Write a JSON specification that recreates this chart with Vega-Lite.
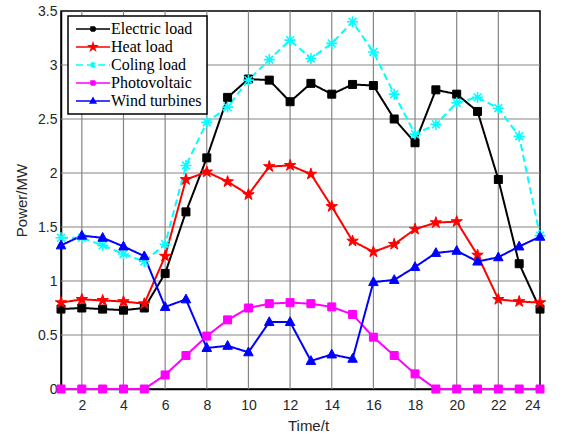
{
  "$schema": "https://vega.github.io/schema/vega-lite/v6.json",
  "width": 479,
  "height": 378,
  "autosize": {"type": "none"},
  "padding": {"left": 61, "top": 11, "right": 25, "bottom": 54},
  "background": "white",
  "datasets": {
    "loads": [
      {"t": 1, "Electric load": 0.74, "Heat load": 0.80, "Coling load": 1.40, "Photovoltaic": 0, "Wind turbines": 1.33},
      {"t": 2, "Electric load": 0.75, "Heat load": 0.83, "Coling load": 1.40, "Photovoltaic": 0, "Wind turbines": 1.42},
      {"t": 3, "Electric load": 0.74, "Heat load": 0.82, "Coling load": 1.33, "Photovoltaic": 0, "Wind turbines": 1.40},
      {"t": 4, "Electric load": 0.73, "Heat load": 0.81, "Coling load": 1.25, "Photovoltaic": 0, "Wind turbines": 1.32},
      {"t": 5, "Electric load": 0.75, "Heat load": 0.79, "Coling load": 1.18, "Photovoltaic": 0, "Wind turbines": 1.23},
      {"t": 6, "Electric load": 1.07, "Heat load": 1.23, "Coling load": 1.34, "Photovoltaic": 0.13, "Wind turbines": 0.76},
      {"t": 7, "Electric load": 1.64, "Heat load": 1.94, "Coling load": 2.07, "Photovoltaic": 0.31, "Wind turbines": 0.83},
      {"t": 8, "Electric load": 2.14, "Heat load": 2.01, "Coling load": 2.47, "Photovoltaic": 0.49, "Wind turbines": 0.38},
      {"t": 9, "Electric load": 2.70, "Heat load": 1.92, "Coling load": 2.61, "Photovoltaic": 0.64, "Wind turbines": 0.40},
      {"t": 10, "Electric load": 2.87, "Heat load": 1.80, "Coling load": 2.86, "Photovoltaic": 0.75, "Wind turbines": 0.34},
      {"t": 11, "Electric load": 2.86, "Heat load": 2.06, "Coling load": 3.05, "Photovoltaic": 0.79, "Wind turbines": 0.62},
      {"t": 12, "Electric load": 2.66, "Heat load": 2.07, "Coling load": 3.23, "Photovoltaic": 0.80, "Wind turbines": 0.62},
      {"t": 13, "Electric load": 2.83, "Heat load": 1.99, "Coling load": 3.06, "Photovoltaic": 0.79, "Wind turbines": 0.26},
      {"t": 14, "Electric load": 2.73, "Heat load": 1.69, "Coling load": 3.20, "Photovoltaic": 0.76, "Wind turbines": 0.32},
      {"t": 15, "Electric load": 2.82, "Heat load": 1.37, "Coling load": 3.40, "Photovoltaic": 0.69, "Wind turbines": 0.28},
      {"t": 16, "Electric load": 2.81, "Heat load": 1.27, "Coling load": 3.12, "Photovoltaic": 0.48, "Wind turbines": 0.99},
      {"t": 17, "Electric load": 2.50, "Heat load": 1.34, "Coling load": 2.73, "Photovoltaic": 0.31, "Wind turbines": 1.01},
      {"t": 18, "Electric load": 2.28, "Heat load": 1.48, "Coling load": 2.36, "Photovoltaic": 0.14, "Wind turbines": 1.13},
      {"t": 19, "Electric load": 2.77, "Heat load": 1.54, "Coling load": 2.45, "Photovoltaic": 0, "Wind turbines": 1.26},
      {"t": 20, "Electric load": 2.73, "Heat load": 1.55, "Coling load": 2.65, "Photovoltaic": 0, "Wind turbines": 1.28},
      {"t": 21, "Electric load": 2.57, "Heat load": 1.24, "Coling load": 2.70, "Photovoltaic": 0, "Wind turbines": 1.18},
      {"t": 22, "Electric load": 1.94, "Heat load": 0.83, "Coling load": 2.60, "Photovoltaic": 0, "Wind turbines": 1.22},
      {"t": 23, "Electric load": 1.16, "Heat load": 0.81, "Coling load": 2.34, "Photovoltaic": 0, "Wind turbines": 1.32},
      {"t": 24, "Electric load": 0.74, "Heat load": 0.80, "Coling load": 1.42, "Photovoltaic": 0, "Wind turbines": 1.41}
    ],
    "grid": [
      {"g": "x2", "t": 2, "v": 0}, {"g": "x2", "t": 2, "v": 3.5},
      {"g": "x4", "t": 4, "v": 0}, {"g": "x4", "t": 4, "v": 3.5},
      {"g": "x6", "t": 6, "v": 0}, {"g": "x6", "t": 6, "v": 3.5},
      {"g": "x8", "t": 8, "v": 0}, {"g": "x8", "t": 8, "v": 3.5},
      {"g": "x10", "t": 10, "v": 0}, {"g": "x10", "t": 10, "v": 3.5},
      {"g": "x12", "t": 12, "v": 0}, {"g": "x12", "t": 12, "v": 3.5},
      {"g": "x14", "t": 14, "v": 0}, {"g": "x14", "t": 14, "v": 3.5},
      {"g": "x16", "t": 16, "v": 0}, {"g": "x16", "t": 16, "v": 3.5},
      {"g": "x18", "t": 18, "v": 0}, {"g": "x18", "t": 18, "v": 3.5},
      {"g": "x20", "t": 20, "v": 0}, {"g": "x20", "t": 20, "v": 3.5},
      {"g": "x22", "t": 22, "v": 0}, {"g": "x22", "t": 22, "v": 3.5},
      {"g": "y0.5", "t": 1, "v": 0.5}, {"g": "y0.5", "t": 24, "v": 0.5},
      {"g": "y1", "t": 1, "v": 1}, {"g": "y1", "t": 24, "v": 1},
      {"g": "y1.5", "t": 1, "v": 1.5}, {"g": "y1.5", "t": 24, "v": 1.5},
      {"g": "y2", "t": 1, "v": 2}, {"g": "y2", "t": 24, "v": 2},
      {"g": "y2.5", "t": 1, "v": 2.5}, {"g": "y2.5", "t": 24, "v": 2.5},
      {"g": "y3", "t": 1, "v": 3}, {"g": "y3", "t": 24, "v": 3}
    ]
  },
  "encoding": {
    "x": {
      "field": "t", "type": "quantitative",
      "scale": {"domain": [1, 24], "nice": false, "zero": false},
      "axis": {"grid": false, "values": [2, 4, 6, 8, 10, 12, 14, 16, 18, 20, 22, 24], "title": "Time/t", "titleX": 247, "titlePadding": 6, "labelPadding": 9}
    },
    "y": {
      "field": "v", "type": "quantitative",
      "scale": {"domain": [0, 3.5], "nice": false},
      "axis": {"grid": false, "values": [0, 0.5, 1, 1.5, 2, 2.5, 3, 3.5], "format": "~g", "title": "Power/MW", "titlePadding": 8, "labelPadding": 4}
    }
  },
  "layer": [
    {
      "data": {"name": "grid"},
      "mark": {"type": "line", "stroke": "#858585", "strokeWidth": 1.2, "opacity": 1},
      "encoding": {
        "detail": {"field": "g", "type": "nominal"},
        "order": {"field": "v", "type": "quantitative"}
      }
    },
    {
      "data": {"name": "loads"},
      "transform": [
        {"fold": ["Electric load", "Heat load", "Coling load", "Photovoltaic", "Wind turbines"], "as": ["series", "v"]}
      ],
      "layer": [
        {
          "mark": {"type": "line", "strokeWidth": 2, "opacity": 1},
          "encoding": {
            "stroke": {
              "field": "series", "type": "nominal", "title": null,
              "scale": {"domain": ["Electric load", "Heat load", "Coling load", "Photovoltaic", "Wind turbines"], "range": ["#000000", "#ff0000", "#00ffff", "#ff00ff", "#0000ff"]},
              "legend": {"orient": "none", "legendX": 7, "legendY": 5, "labelFont": "Liberation Serif"}
            },
            "strokeDash": {
              "field": "series", "type": "nominal", "title": null,
              "scale": {"domain": ["Electric load", "Heat load", "Coling load", "Photovoltaic", "Wind turbines"], "range": [[1, 0], [1, 0], [7, 4], [1, 0], [1, 0]]},
              "legend": {"orient": "none", "legendX": 7, "legendY": 5, "labelFont": "Liberation Serif"}
            }
          }
        },
        {
          "transform": [{"filter": "datum.series == 'Electric load'"}],
          "mark": {"type": "point", "shape": "M-0.8,-0.8H0.8V0.8H-0.8Z", "size": 100, "fill": "#000000", "stroke": "#000000", "strokeWidth": 1, "opacity": 1, "filled": true}
        },
        {
          "transform": [{"filter": "datum.series == 'Heat load'"}],
          "mark": {"type": "point", "shape": "M0,-1.2L0.27,-0.372L1.141,-0.371L0.438,0.142L0.705,0.971L0,0.46L-0.705,0.971L-0.438,0.142L-1.141,-0.371L-0.27,-0.372Z", "size": 100, "fill": "#ff0000", "stroke": "#ff0000", "strokeWidth": 1, "opacity": 1, "filled": true}
        },
        {
          "transform": [{"filter": "datum.series == 'Coling load'"}],
          "mark": {"type": "point", "shape": "M0,-1.1V1.1M-1.1,0H1.1M-0.78,-0.78L0.78,0.78M-0.78,0.78L0.78,-0.78", "size": 100, "fill": "#00ffff", "stroke": "#00ffff", "strokeWidth": 1.6, "opacity": 1, "filled": false}
        },
        {
          "transform": [{"filter": "datum.series == 'Photovoltaic'"}],
          "mark": {"type": "point", "shape": "M-0.8,-0.8H0.8V0.8H-0.8Z", "size": 100, "fill": "#ff00ff", "stroke": "#ff00ff", "strokeWidth": 1, "opacity": 1, "filled": true}
        },
        {
          "transform": [{"filter": "datum.series == 'Wind turbines'"}],
          "mark": {"type": "point", "shape": "M0,-1.05L0.95,0.7L-0.95,0.7Z", "size": 100, "fill": "#0000ff", "stroke": "#0000ff", "strokeWidth": 1, "opacity": 1, "filled": true}
        },
        {
          "mark": {"type": "point", "size": 100, "opacity": 0, "strokeWidth": 1.5, "filled": true},
          "encoding": {
            "fill": {
              "field": "series", "type": "nominal", "title": null,
              "scale": {"domain": ["Electric load", "Heat load", "Coling load", "Photovoltaic", "Wind turbines"], "range": ["#000000", "#ff0000", "#00ffff", "#ff00ff", "#0000ff"]},
              "legend": {"orient": "none", "legendX": 7, "legendY": 5, "labelFont": "Liberation Serif", "symbolOpacity": 1}
            },
            "stroke": {
              "field": "series", "type": "nominal", "title": null,
              "legend": {"orient": "none", "legendX": 7, "legendY": 5, "labelFont": "Liberation Serif", "symbolOpacity": 1}
            },
            "strokeDash": {
              "field": "series", "type": "nominal", "title": null,
              "legend": {"orient": "none", "legendX": 7, "legendY": 5, "labelFont": "Liberation Serif", "symbolOpacity": 1}
            },
            "shape": {
              "field": "series", "type": "nominal", "title": null,
              "scale": {
                "domain": ["Electric load", "Heat load", "Coling load", "Photovoltaic", "Wind turbines"],
                "range": [
                  "M-1,0H5.8M2,-0.4H2.8V0.4H2Z",
                  "M-1,0H5.8M2.4,-0.75L2.57,-0.232L3.113,-0.232L2.674,0.089L2.841,0.607L2.4,0.287L1.959,0.607L2.126,0.089L1.687,-0.232L2.23,-0.232Z",
                  "M-1,0H5.8M2.4,-0.65V0.65M1.94,-0.46L2.86,0.46M1.94,0.46L2.86,-0.46",
                  "M-1,0H5.8M2,-0.4H2.8V0.4H2Z",
                  "M-1,0H5.8M2.4,-0.6L2.95,0.4L1.85,0.4Z"
                ]
              },
              "legend": {"orient": "none", "legendX": 7, "legendY": 5, "labelFont": "Liberation Serif", "symbolOpacity": 1}
            }
          }
        }
      ]
    }
  ],
  "config": {
    "view": {"stroke": "#000000", "strokeWidth": 1.5},
    "axis": {
      "domainColor": "#000000",
      "domainWidth": 1.5,
      "ticks": false,
      "labelFont": "Liberation Sans",
      "labelFontSize": 14,
      "labelColor": "#262626",
      "titleFont": "Liberation Sans",
      "titleFontSize": 15,
      "titleFontWeight": "normal",
      "titleColor": "#262626"
    },
    "legend": {
      "fillColor": "#ffffff",
      "strokeColor": "#000000",
      "strokeWidth": 1.5,
      "padding": 5,
      "cornerRadius": 0,
      "symbolSize": 100,
      "symbolStrokeWidth": 1.5,
      "symbolOpacity": 1,
      "labelFontSize": 16,
      "labelColor": "#000000",
      "labelOffset": 22,
      "labelLimit": 300,
      "rowPadding": 2
    }
  }
}
